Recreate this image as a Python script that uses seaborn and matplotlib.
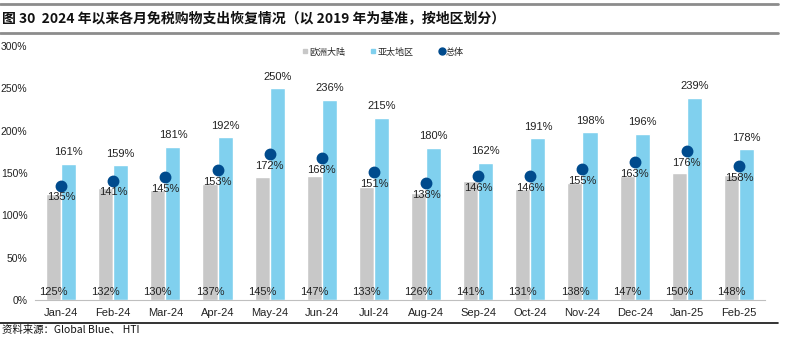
import matplotlib
matplotlib.use("Agg")
import matplotlib.pyplot as plt
from matplotlib.lines import Line2D
import numpy as np
import pandas as pd
import seaborn as sns

months = ["Jan-24", "Feb-24", "Mar-24", "Apr-24", "May-24", "Jun-24", "Jul-24",
          "Aug-24", "Sep-24", "Oct-24", "Nov-24", "Dec-24", "Jan-25", "Feb-25"]
europe = [125, 132, 130, 137, 145, 147, 133, 126, 141, 131, 138, 147, 150, 148]
apac = [161, 159, 181, 192, 250, 236, 215, 180, 162, 191, 198, 196, 239, 178]
overall = [135, 141, 145, 153, 172, 168, 151, 138, 146, 146, 155, 163, 176, 158]
yticks = [0, 50, 100, 150, 200, 250, 300]

series_names = ["欧洲大陆", "亚太地区", "总体"]
c_gray = "#C8C8C8"
c_blue = "#80D0EE"
c_dot = "#004B8D"

sns.set_theme(style="white")
plt.rcParams["font.family"] = ["Liberation Sans", "Noto Sans CJK SC", "DejaVu Sans"]

df = pd.DataFrame({
    "month": months * 2,
    "value": europe + apac,
    "region": [series_names[0]] * len(months) + [series_names[1]] * len(months),
})

fig = plt.figure(figsize=(7.86, 3.37), dpi=100)
ax = fig.add_axes([35 / 786, 1 - 300 / 337, 730 / 786, 254 / 337])

sns.barplot(data=df, x="month", y="value", hue="region", order=months,
            hue_order=series_names[:2], palette=[c_gray, c_blue],
            width=0.58, gap=0, saturation=1, legend=False, ax=ax, errorbar=None)
sns.pointplot(x=months, y=overall, order=months, color=c_dot, linestyle="none",
              markers="o", markersize=6.5, ax=ax, errorbar=None)

ax.set_ylim(0, 300)
ax.set_xlim(-0.5, len(months) - 0.5)
ax.set_yticks(yticks)
ax.set_yticklabels([f"{v}%" for v in yticks], fontsize=7.5, color="#222222")
ax.set_xlabel("")
ax.set_ylabel("")
ax.tick_params(axis="x", length=0, labelsize=8, colors="#222222", pad=6)
ax.tick_params(axis="y", length=0, pad=5.5)
ax.set_xticks(np.arange(len(months)) + 0.5, minor=True)
ax.tick_params(axis="x", which="minor", length=4, color="#BFBFBF", width=0.8, direction="out")
for s in ["top", "right", "left"]:
    ax.spines[s].set_visible(False)
ax.spines["bottom"].set_color("#BFBFBF")
ax.spines["bottom"].set_linewidth(0.8)
ax.grid(False)

gray_bars = ax.containers[0]
blue_bars = ax.containers[1]
for bar, v in zip(gray_bars, europe):
    x = bar.get_x() + bar.get_width() / 2
    ax.text(x, 4, f"{v}%", ha="center", va="bottom", fontsize=8, color="#222222")
for bar, v in zip(blue_bars, apac):
    x = bar.get_x() + bar.get_width() / 2
    ax.text(x, v + 8, f"{v}%", ha="center", va="bottom", fontsize=8, color="#222222")
for i, v in enumerate(overall):
    ax.text(i, v - 8, f"{v}%", ha="center", va="top", fontsize=8, color="#222222")

handles = [
    Line2D([], [], marker="s", linestyle="none", color=c_gray, markersize=3.5),
    Line2D([], [], marker="s", linestyle="none", color=c_blue, markersize=3.5),
    Line2D([], [], marker="o", linestyle="none", color=c_dot, markersize=5),
]
fig.legend(handles, series_names, loc="center", bbox_to_anchor=(382 / 786, 1 - 52 / 337),
           ncol=3, frameon=False, handletextpad=0.0, columnspacing=2.6,
           handlelength=1, prop={"family": ["Noto Sans CJK SC"], "size": 6.5})

# Title band
fig.add_artist(Line2D([0, 0.99], [1 - 3.5 / 337, 1 - 3.5 / 337], color="#8C8C8C", lw=2))
fig.add_artist(Line2D([0, 0.99], [1 - 33 / 337, 1 - 33 / 337], color="#8C8C8C", lw=2))
fig.text(0.002, 1 - 18.5 / 337, "图 30  2024 年以来各月免税购物支出恢复情况（以 2019 年为基准，按地区划分）",
         ha="left", va="center", fontsize=10, fontweight="bold", color="#111111",
         family=["Noto Sans CJK SC", "DejaVu Sans"])

# Source band
fig.add_artist(Line2D([0, 0.99], [1 - 323 / 337, 1 - 323 / 337], color="#111111", lw=1.2))
fig.text(0.002, 1 - 330 / 337, "资料来源：Global Blue、 HTI", ha="left", va="center",
         fontsize=7.5, color="#111111", family=["Noto Sans CJK SC", "DejaVu Sans"])

fig.savefig("out.png", dpi=100)
